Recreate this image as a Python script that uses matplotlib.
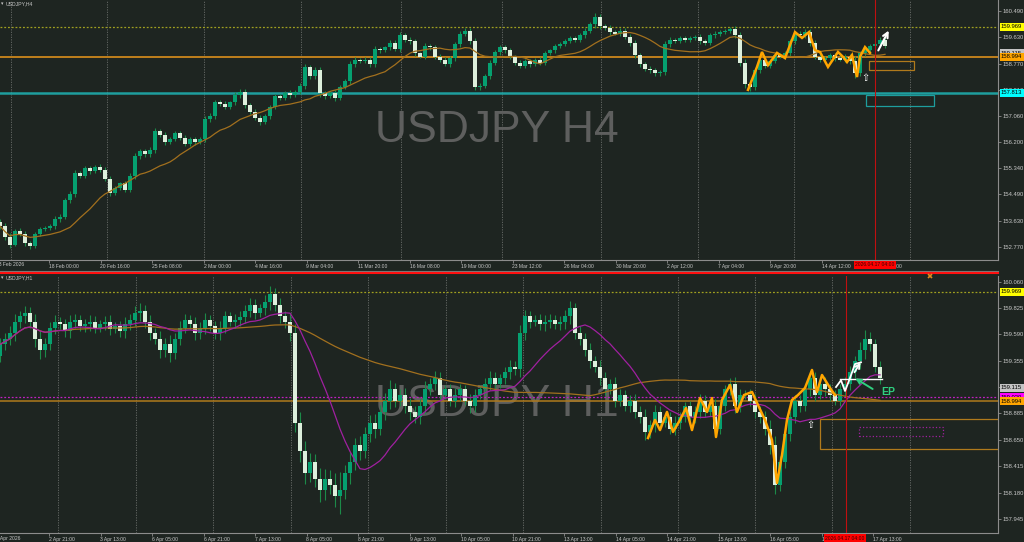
import matplotlib
matplotlib.use("Agg")
import matplotlib.pyplot as plt
import matplotlib.transforms as mtrans
from matplotlib.lines import Line2D
from matplotlib.patches import Rectangle
import numpy as np
import pandas as pd

plt.rcParams['font.family'] = ['Liberation Sans', 'DejaVu Sans']

# ---- data: H4 panel --------------------------------------------------
h4_first_open = 153.60
h4_close = [
    153.45, 153.10, 152.85, 153.30, 153.20, 152.90, 152.80, 153.20, 153.35, 153.40,
    153.45, 153.70, 153.75, 154.30, 154.50, 155.20, 155.10, 155.35, 155.25, 155.40,
    155.30, 155.00, 154.55, 154.70, 154.85, 154.65, 155.10, 155.75, 155.90, 155.80,
    155.95, 156.55, 156.45, 156.20, 156.30, 156.50, 156.35, 156.15, 156.30, 156.20,
    156.30, 156.95, 157.05, 157.50, 157.45, 157.35, 157.50, 157.75, 157.85, 157.40,
    157.20, 157.00, 156.85, 157.05, 157.35, 157.70, 157.65, 157.80, 157.75, 157.85,
    158.05, 158.65, 158.35, 158.55, 157.80, 157.70, 157.80, 157.65, 158.00, 158.20,
    158.75, 158.90, 158.85, 158.90, 158.75, 159.25, 159.20, 159.30, 159.45, 159.25,
    159.70, 159.55, 159.50, 159.10, 159.00, 159.35, 159.30, 159.00, 158.90, 158.75,
    158.95, 159.40, 159.75, 159.85, 159.50, 158.00, 158.05, 158.35, 158.80, 159.15,
    159.30, 159.20, 159.00, 158.80, 158.70, 158.85, 158.75, 158.90, 158.80, 159.10,
    159.20, 159.35, 159.40, 159.50, 159.60, 159.55, 159.70, 159.85, 160.05, 160.30,
    160.00, 159.95, 159.80, 159.75, 159.85, 159.65, 159.45, 159.05, 158.75, 158.60,
    158.55, 158.45, 158.50, 159.40, 159.55, 159.50, 159.60, 159.55, 159.60, 159.65,
    159.50, 159.45, 159.70, 159.75, 159.80, 159.85, 159.90, 159.70, 158.80, 158.10,
    158.00, 158.55, 158.90, 158.70, 158.85, 159.05, 159.00, 159.10, 159.50, 159.75,
    159.70, 159.80, 159.45, 159.00, 158.90, 158.95, 159.05, 158.95, 158.90, 159.00,
    158.85, 158.45, 159.10, 159.20, 159.35, 159.40, 159.55, 159.35]
# wick length beyond the body, in 0.01 yen
h4_wick = [
    8, 10, 12, 6, 8, 10, 8, 6, 7, 5,
    6, 8, 10, 8, 10, 9, 6, 7, 8, 6,
    7, 8, 10, 8, 6, 9, 8, 10, 9, 7,
    8, 12, 8, 9, 7, 6, 8, 7, 6, 8,
    6, 10, 9, 8, 7, 8, 6, 9, 10, 8,
    9, 8, 10, 7, 8, 6, 7, 8, 9, 6,
    8, 12, 9, 10, 11, 8, 7, 9, 8, 7,
    10, 8, 6, 7, 9, 8, 7, 6, 9, 8,
    10, 7, 8, 9, 6, 8, 7, 9, 8, 7,
    8, 9, 10, 8, 9, 10, 8, 9, 8, 7,
    9, 8, 7, 6, 8, 7, 8, 6, 7, 8,
    6, 7, 8, 7, 6, 8, 7, 9, 8, 12,
    9, 7, 8, 6, 7, 8, 9, 10, 8, 7,
    8, 9, 7, 10, 8, 6, 7, 8, 7, 6,
    8, 7, 6, 8, 7, 6, 8, 9, 10, 12,
    14, 9, 8, 7, 8, 7, 6, 8, 9, 8,
    7, 9, 10, 8, 7, 6, 7, 8, 6, 7,
    8, 16, 9, 8, 7, 8, 9, 8]

h4_zig_x = [149.6, 151.4, 152.4, 153.6, 155.4, 157.0, 159.0, 160.4, 161.8, 163.0,
            164.0, 165.6, 167.6, 168.6, 169.4, 170.4, 171.4, 172.0, 173.0, 174.0]
h4_zig_y = [157.91, 158.66, 159.15, 158.72, 159.12, 158.95, 159.80, 159.61, 159.80, 159.21,
            159.15, 158.66, 159.15, 158.99, 158.82, 159.05, 158.33, 158.99, 159.31, 159.12]

h4_ticks_lbl = ["18 Feb 00:00", "20 Feb 16:00", "25 Feb 08:00", "2 Mar 00:00", "4 Mar 16:00",
                "9 Mar 04:00", "11 Mar 20:00", "16 Mar 08:00", "19 Mar 00:00", "23 Mar 12:00",
                "26 Mar 04:00", "30 Mar 20:00", "2 Apr 12:00", "7 Apr 04:00", "9 Apr 20:00",
                "14 Apr 12:00", "17 Apr 04:00"]
h4_yticks = [160.490, 159.630, 158.770, 157.910, 157.060, 156.200, 155.340, 154.490, 153.630, 152.770]
h4_levels = [159.969, 158.994, 157.813]
h4_tags = [("159.969", 159.969, "#ffff00"), ("159.115", 159.115, "#c4c4c4"),
           ("158.994", 158.994, "#ffa500"), ("157.813", 157.813, "#00ffff")]
# zones: x0, x1, low, high
h4_zones = [(173.8, 182.8, 158.56, 158.855, "#b07a1c", "-"),
            (173.2, 186.8, 157.38, 157.74, "#1e9e9e", "-")]

# ---- data: H1 panel --------------------------------------------------
h1_first_open = 159.40
h1_close = [
    159.50, 159.55, 159.60, 159.70, 159.75, 159.78, 159.70, 159.55, 159.45, 159.50,
    159.65, 159.70, 159.68, 159.62, 159.70, 159.72, 159.66, 159.68, 159.70, 159.65,
    159.68, 159.70, 159.64, 159.66, 159.62, 159.68, 159.72, 159.78, 159.80, 159.70,
    159.60, 159.55, 159.45, 159.50, 159.42, 159.55, 159.65, 159.72, 159.68, 159.60,
    159.65, 159.72, 159.66, 159.60, 159.65, 159.75, 159.70, 159.72, 159.74, 159.80,
    159.85, 159.78, 159.82, 159.88, 159.95, 159.85, 159.75, 159.70, 159.60, 158.80,
    158.55, 158.35, 158.45, 158.30, 158.20, 158.30, 158.25, 158.15, 158.20, 158.35,
    158.45, 158.60, 158.55, 158.70, 158.80, 158.75, 158.90, 159.00, 159.10, 159.00,
    159.05, 158.95, 158.90, 158.85, 158.95, 159.10, 159.15, 159.20, 159.05, 159.10,
    159.00, 159.05, 159.10, 159.00, 158.95, 159.05, 159.10, 159.15, 159.20, 159.15,
    159.20, 159.25, 159.30, 159.28, 159.60, 159.75, 159.70, 159.72, 159.68, 159.70,
    159.72, 159.68, 159.70, 159.75, 159.82, 159.60, 159.55, 159.45, 159.35, 159.30,
    159.20, 159.10, 159.15, 159.00, 159.05, 158.95, 159.00, 158.90, 158.85, 158.72,
    158.78, 158.90, 158.80, 158.85, 158.75, 158.80, 158.85, 158.95, 158.85, 158.90,
    159.00, 158.90, 158.95, 158.75, 158.95, 159.10, 159.15, 158.95, 159.05, 159.05,
    159.00, 158.90, 158.85, 158.75, 158.60, 158.25, 158.45, 158.70, 158.85, 159.00,
    158.95, 159.10, 159.20, 159.05, 159.15, 159.10, 159.05, 159.00, 159.10, 159.15,
    159.25, 159.35, 159.45, 159.55, 159.50, 159.30, 159.20]
h1_wick = [
    6, 5, 6, 7, 5, 6, 5, 7, 8, 6,
    5, 6, 4, 5, 6, 5, 4, 5, 6, 5,
    4, 5, 6, 4, 5, 6, 5, 6, 7, 5,
    6, 5, 7, 6, 8, 5, 6, 5, 4, 6,
    5, 6, 4, 5, 6, 5, 4, 5, 6, 5,
    6, 5, 4, 6, 7, 5, 6, 5, 7, 8,
    10, 9, 8, 7, 10, 9, 8, 10, 16, 8,
    9, 7, 8, 6, 7, 8, 6, 7, 8, 6,
    5, 6, 7, 5, 6, 7, 5, 6, 5, 4,
    5, 6, 5, 4, 6, 5, 4, 5, 6, 5,
    4, 5, 6, 5, 7, 6, 5, 4, 5, 6,
    5, 4, 5, 6, 7, 5, 6, 5, 6, 5,
    6, 5, 4, 6, 5, 4, 5, 6, 5, 7,
    5, 6, 5, 4, 5, 6, 5, 4, 5, 5,
    6, 5, 4, 6, 5, 4, 5, 6, 5, 4,
    5, 6, 5, 6, 8, 8, 6, 5, 6, 5,
    5, 4, 6, 5, 4, 6, 5, 4, 5, 6,
    6, 5, 7, 8, 6, 5, 5]

h1_zig_x = [129.6, 131.0, 132.0, 133.4, 134.6, 136.0, 137.2, 138.4, 140.0, 141.4,
            142.4, 143.2, 144.4, 146.0, 147.4, 148.8, 150.4, 151.6, 153.0, 154.4,
            155.4, 156.4, 157.4, 158.4, 159.6, 161.0, 162.4, 163.4, 164.4, 166.0, 167.0]
h1_zig_y = [158.666, 158.827, 158.737, 158.898, 158.720, 158.827, 158.933, 158.737, 159.022, 158.898,
            159.022, 158.675, 159.005, 159.138, 158.898, 159.049, 159.076, 158.960, 158.827, 158.648,
            158.266, 158.515, 158.827, 159.005, 159.049, 159.112, 159.272, 159.076, 159.227, 159.112,
            159.049]
h1_white_x = [167.2, 168.2, 169.0, 170.0, 171.0, 172.2]
h1_white_y = [159.12, 159.18, 159.085, 159.20, 159.325, 159.34]

h1_ticks_lbl = ["2 Apr 21:00", "3 Apr 13:00", "6 Apr 05:00", "6 Apr 21:00", "7 Apr 13:00",
                "8 Apr 05:00", "8 Apr 21:00", "9 Apr 13:00", "10 Apr 05:00", "10 Apr 21:00",
                "13 Apr 13:00", "14 Apr 05:00", "14 Apr 21:00", "15 Apr 13:00", "16 Apr 05:00",
                "16 Apr 21:00", "17 Apr 13:00"]
h1_yticks = [160.060, 159.825, 159.590, 159.355, 159.120, 158.885, 158.650, 158.415, 158.180, 157.945]
h1_tags = [("159.969", 159.969, "#ffff00"), ("159.115", 159.115, "#c4c4c4"),
           ("159.020", 159.030, "#ff00ff"), ("158.994", 158.994, "#ffa500")]
h1_zones = [(164.0, 205.0, 158.568, 158.835, "#b07a1c", "-"),
            (171.8, 188.6, 158.684, 158.764, "#a020a0", ":")]

# ---- style -----------------------------------------------------------
BG = "#1e2521"
GRID = "#6a6d6a"
TXT = "#c8c8c8"
BULL = "#05a070"
BEAR = "#ddefdc"
WICK = "#1c8a48"
PX = 5.0            # screen pixels per bar
W, H = 1024, 542


def box(x0, y0, x1, y1):
    return [x0 / W, 1 - y1 / H, (x1 - x0) / W, (y1 - y0) / H]


def candles(ax, closes, wicks, first_open):
    c = np.array(closes)
    o = np.r_[first_open, c[:-1]]
    w = np.array(wicks) / 100.0
    hi = np.maximum(o, c) + w
    lo = np.minimum(o, c) - w
    x = np.arange(len(c))
    up = c >= o
    ax.vlines(x, lo, hi, color=WICK, lw=0.8, zorder=3)
    body = np.maximum(np.abs(c - o), 0.012)
    ax.bar(x[up], body[up], bottom=o[up], width=0.62, color=BULL, lw=0, zorder=4)
    ax.bar(x[~up], body[~up], bottom=c[~up], width=0.62, color=BEAR, lw=0, zorder=4)


def frame(ax, ylim, yticks, tick_lbl, grid_px):
    ax.set_facecolor(BG)
    ax.set_xlim(0.0, 998 / PX)
    ax.set_ylim(*ylim)
    for s in ("top", "left"):
        ax.spines[s].set_visible(False)
    for s in ("right", "bottom"):
        ax.spines[s].set_color("#8c8c8c")
        ax.spines[s].set_linewidth(0.8)
    ax.yaxis.tick_right()
    ax.set_yticks(yticks)
    ax.set_yticklabels([f"{v:.3f}" for v in yticks])
    ax.set_xticks([(49 + 51.5 * k) / PX for k in range(len(tick_lbl))])
    ax.set_xticklabels(tick_lbl, ha="left")
    ax.tick_params(axis="both", colors="#8c8c8c", labelcolor=TXT, length=2, width=0.6,
                   labelsize=3.6, pad=1.2)
    ax.tick_params(axis="y", labelsize=4.2, pad=1.5)
    for gx in grid_px:
        ax.axvline(gx / PX, color=GRID, lw=0.6, ls=(0, (1.5, 1.5)), zorder=0.5)


def tags(ax, items):
    tr = ax.get_yaxis_transform()
    for text, val, col in items:
        ax.text(1.0 + 3 / 998, val, text, transform=tr, ha="left", va="center",
                fontsize=4.2, color="black", clip_on=False, zorder=8,
                bbox=dict(boxstyle="square,pad=0.25", fc=col, ec="none"))


def zones(ax, items):
    for x0, x1, lo, hi, col, ls in items:
        ax.add_patch(Rectangle((x0, lo), x1 - x0, hi - lo, fill=False, ec=col,
                               lw=0.9, ls=ls, zorder=5, clip_on=True))


fig = plt.figure(figsize=(W / 100, H / 100), dpi=100, facecolor=BG)
ax1 = fig.add_axes(box(0, 0, 998, 260))
ax2 = fig.add_axes(box(0, 276, 998, 533))

# ---- H4 panel --------------------------------------------------------
frame(ax1, (152.345, 160.85), h4_yticks, h4_ticks_lbl,
      [11, 107, 204, 301, 401, 502, 601, 698, 794, 910])
ax1.text(0.498, 0.50, "USDJPY H4", transform=ax1.transAxes, ha="center", va="center",
         fontsize=32, color="#5e5f5e", zorder=1)
ax1.axhline(h4_levels[0], color="#a0a020", lw=0.9, ls=(0, (1.5, 1.5)), zorder=2)
ax1.axhline(h4_levels[1], color="#c0801c", lw=1.4, zorder=2)
ax1.axhline(h4_levels[2], color="#1e9e9e", lw=1.8, zorder=2)
candles(ax1, h4_close, h4_wick, h4_first_open)
ma4 = pd.Series(h4_close).rolling(14, min_periods=1).mean()
ax1.plot(np.arange(len(ma4)), ma4, color="#a2701e", lw=0.9, zorder=5)
zones(ax1, h4_zones)
ax1.plot(h4_zig_x, h4_zig_y, color="#ffa500", lw=1.8, zorder=6, solid_joinstyle="miter")
ax1.annotate("", xy=(178.0, 159.93), xytext=(175.4, 159.12),
             arrowprops=dict(arrowstyle="->", color="white", lw=1.5, mutation_scale=9), zorder=7)
ax1.text(173.0, 158.30, "\u21e7", color="white", fontsize=7, ha="center", va="center",
         family="DejaVu Sans", zorder=7)
ax1.axvline(175.0, color="#c01010", lw=0.8, zorder=6)
tags(ax1, h4_tags)
ax1.text(-4 / PX, -0.019, "13 Feb 2026", transform=ax1.get_xaxis_transform(), ha="left",
         va="center", fontsize=3.6, color=TXT, clip_on=False)
ax1.text(175.0, -0.019, "2026.04.17 04:00", transform=ax1.get_xaxis_transform(), ha="center",
         va="center", fontsize=3.6, color="#3a0000", clip_on=False, zorder=9,
         bbox=dict(boxstyle="square,pad=0.25", fc="#ff0000", ec="none"))

# ---- H1 panel --------------------------------------------------------
frame(ax2, (157.82, 160.109), h1_yticks, h1_ticks_lbl,
      [58, 136, 213, 291, 368, 446, 523, 601, 678, 755, 832, 910])
ax2.text(0.498, 0.50, "USDJPY H1", transform=ax2.transAxes, ha="center", va="center",
         fontsize=32, color="#5e5f5e", zorder=1)
ax2.axhline(159.969, color="#a0a020", lw=0.9, ls=(0, (1.5, 1.5)), zorder=2)
ax2.axhline(159.030, color="#c020c0", lw=0.9, ls=(0, (1.5, 1.5)), zorder=2)
ax2.axhline(158.994, color="#b07a1c", lw=1.1, zorder=2)
candles(ax2, h1_close, h1_wick, h1_first_open)
fast = pd.Series(h1_close).rolling(14, min_periods=1).mean()
slow = pd.Series(h1_close).rolling(60, min_periods=1).mean()
ax2.plot(np.arange(len(slow)), slow, color="#a2701e", lw=0.9, zorder=5)
ax2.plot(np.arange(len(fast)), fast, color="#a020a0", lw=0.9, zorder=5)
zones(ax2, h1_zones)
ax2.plot(h1_zig_x, h1_zig_y, color="#ffa500", lw=1.8, zorder=6)
ax2.plot(h1_white_x, h1_white_y, color="white", lw=1.3, zorder=7)
ax2.annotate("", xy=(172.4, 159.36), xytext=(170.6, 159.23),
             arrowprops=dict(arrowstyle="->", color="white", lw=1.3, mutation_scale=8), zorder=7)
ax2.plot([168.0, 176.4], [159.19, 159.19], color="white", lw=1.0, zorder=7)
ax2.annotate("", xy=(170.6, 159.21), xytext=(175.0, 159.09),
             arrowprops=dict(arrowstyle="->", color="#2fd080", lw=1.4, mutation_scale=8), zorder=7)
ax2.text(176.2, 159.08, "EP", color="#2fd080", fontsize=7.5, fontweight="bold",
         ha="left", va="center", zorder=7)
ax2.text(162.0, 158.78, "\u21e7", color="white", fontsize=7, ha="center", va="center",
         family="DejaVu Sans", zorder=7)
ax2.axvline(169.2, color="#c01010", lw=0.8, zorder=6)
tags(ax2, h1_tags)
ax2.text(-4 / PX, -0.0195, "1 Apr 2026", transform=ax2.get_xaxis_transform(), ha="left",
         va="center", fontsize=3.6, color=TXT, clip_on=False)
ax2.text(169.0, -0.0195, "2026.04.17 04:00", transform=ax2.get_xaxis_transform(), ha="center",
         va="center", fontsize=3.6, color="#3a0000", clip_on=False, zorder=9,
         bbox=dict(boxstyle="square,pad=0.25", fc="#ff0000", ec="none"))

# ---- window chrome -------------------------------------------------
fig.add_artist(Line2D([0, 998 / W], [1 - 271.3 / H] * 2, color="#7a7a7a", lw=0.8))
fig.add_artist(Line2D([0, 998 / W], [1 - 273.4 / H] * 2, color="#ff1010", lw=1.5))
fig.text(1 / W, 1 - 4 / H, "\u25be", fontsize=3.5, color=TXT, va="center", family="DejaVu Sans")
fig.text(6 / W, 1 - 4 / H, "USDJPY,H4", fontsize=3.7, color=TXT, va="center")
fig.text(1 / W, 1 - 278 / H, "\u25be", fontsize=3.5, color=TXT, va="center", family="DejaVu Sans")
fig.text(6 / W, 1 - 278 / H, "USDJPY,H1", fontsize=3.7, color=TXT, va="center")
fig.add_artist(Line2D([930 / W], [1 - 276 / H], marker="x", color="#e08a20", ms=3.5, mew=1.2))

fig.savefig("out.png", dpi=100, facecolor=BG)
